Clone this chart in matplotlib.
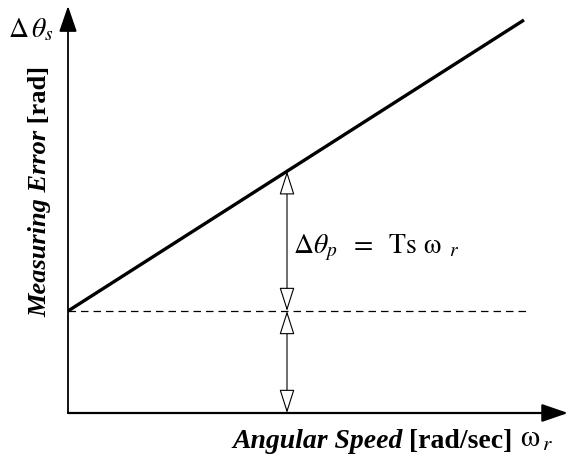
import matplotlib.pyplot as plt

plt.rcParams["font.family"] = "Liberation Serif"
plt.rcParams["mathtext.fontset"] = "stix"

# Data (arbitrary units)
speed = [0.0, 9.12]
error = [2.04, 7.86]
offset = 2.04
speed_mark = 4.38
error_mark = offset + (error[1] - error[0]) / (speed[1] - speed[0]) * speed_mark

W, H = 571, 457
fig = plt.figure(figsize=(W / 100, H / 100), dpi=100)
ax = fig.add_axes([68 / W, (H - 413) / H, 500 / W, 405 / H])
ax.set_xlim(0, 10)
ax.set_ylim(0, 8.1)
ax.axis("off")

# Axes with arrows
ax.annotate("", xy=(1, 0), xytext=(0, 0), xycoords="axes fraction",
            arrowprops=dict(arrowstyle="-|>,head_length=1.6,head_width=0.55",
                            lw=1.6, color="black", shrinkA=0, shrinkB=0),
            annotation_clip=False)
ax.annotate("", xy=(0, 1.005), xytext=(0, 0), xycoords="axes fraction",
            arrowprops=dict(arrowstyle="-|>,head_length=1.6,head_width=0.55",
                            lw=1.3, color="black", shrinkA=0, shrinkB=0),
            annotation_clip=False)

# Error line and offset
ax.plot(speed, error, color="black", lw=2.4, solid_capstyle="butt")
ax.plot([0, 9.2], [offset, offset], color="black", lw=0.9, ls=(0, (6, 4)))

# Dimension arrows
arr = dict(arrowstyle="<|-|>,head_length=1.5,head_width=0.48", lw=0.8,
           ec="black", fc="white", shrinkA=0, shrinkB=0)
ax.annotate("", xy=(speed_mark, error_mark), xytext=(speed_mark, offset),
            arrowprops=arr)
ax.annotate("", xy=(speed_mark, offset), xytext=(speed_mark, 0),
            arrowprops=arr)

# Texts
fig.text(8 / W, 1 - 37 / H, r"$\Delta\,\theta_s$", fontsize=20, ha="left",
         va="baseline")
fig.text(293 / W, 1 - 253 / H,
         r"$\Delta\theta_p\;\ =\;\ \mathrm{Ts}\ \mathrm{\omega}_{\;\ r}$",
         fontsize=20, ha="left", va="baseline")

t1 = fig.text(51 / W, 1 - 317 / H, "Measuring Error", rotation=90,
              fontsize=19, fontweight="bold", fontstyle="italic",
              ha="right", va="bottom")
ax.annotate(" [rad]", xy=(1, 1), xycoords=t1, rotation=90, fontsize=19,
            fontweight="bold", ha="right", va="bottom")

t2 = fig.text(232 / W, 1 - 448 / H, "Angular Speed", fontsize=20,
              fontweight="bold", fontstyle="italic", ha="left", va="baseline")
t3 = ax.annotate(" [rad/sec] ", xy=(1, 0), xycoords=t2, fontsize=20,
                 fontweight="bold", ha="left", va="bottom")
ax.annotate(r"$\mathrm{\omega}_{\,r}$", xy=(1, 0), xycoords=t3, fontsize=22,
            ha="left", va="bottom")

fig.savefig("out.png", dpi=100)
